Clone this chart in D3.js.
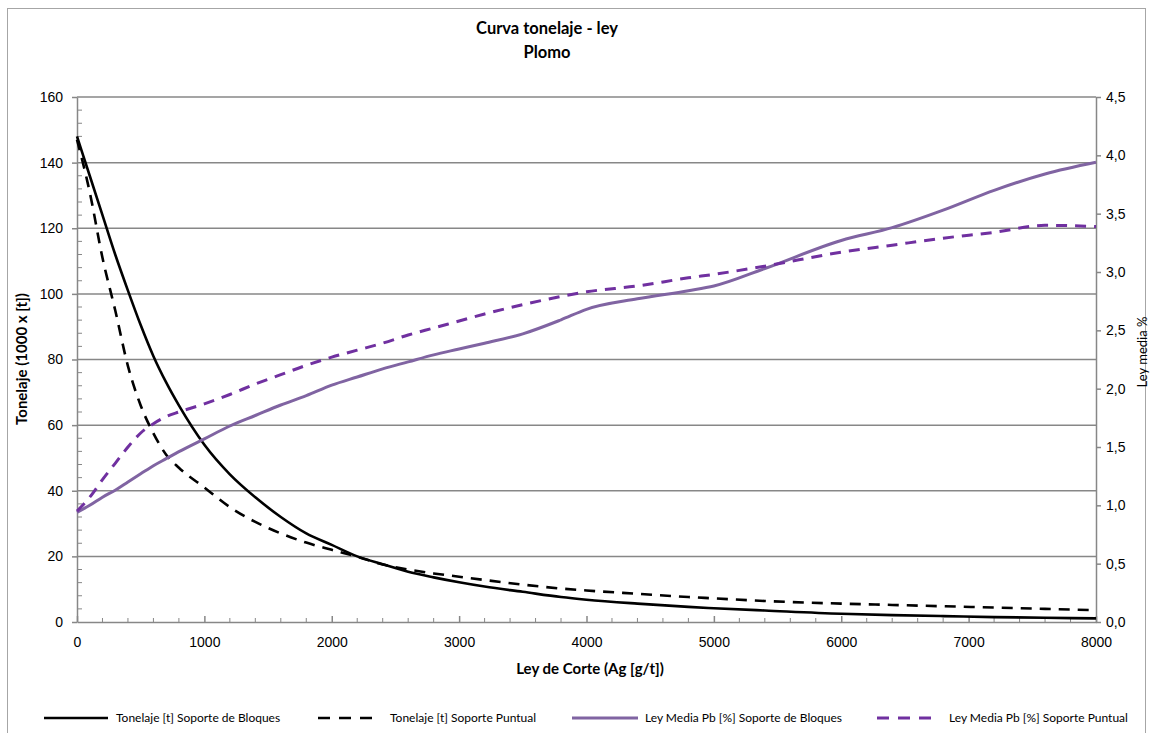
<!DOCTYPE html>
<html>
<head>
<meta charset="utf-8">
<script src="https://cdn.jsdelivr.net/npm/d3@7"></script>
<style>
  html, body { margin: 0; padding: 0; background: #fff; }
  svg { display: block; font-family: Lato, "Open Sans", sans-serif; }
  .tick text { fill: #000; }
</style>
</head>
<body>
<svg id="chart" width="1153" height="733"></svg>
<script>
// Cut-off grade (Ag g/t) shared by every series
const cutoff = [0, 100, 200, 300, 400, 500, 600, 700, 800, 1000, 1200, 1400, 1600, 1800,
  2000, 2200, 2400, 2600, 2800, 3000, 3200, 3500, 3800, 4000, 4400, 4800, 5000, 5400,
  6000, 6400, 6800, 7200, 7600, 8000];

// Tonnage (1000 x t), block support
const tonBloques = [148, 136, 124, 112, 101, 90.5, 81, 73, 66, 54, 45, 38, 32, 27,
  23.5, 20, 17.6, 15.3, 13.6, 12.1, 10.8, 9.2, 7.6, 6.8, 5.6, 4.6, 4.2, 3.5,
  2.5, 2.1, 1.8, 1.5, 1.3, 1.1];

// Tonnage (1000 x t), point support
const tonPuntual = [147, 131, 111, 95, 78, 66, 57.5, 51, 47, 41, 35, 30.5, 27, 24.2,
  22, 19.9, 17.5, 16.0, 14.8, 13.8, 12.8, 11.4, 10.2, 9.6, 8.6, 7.6, 7.2, 6.4,
  5.6, 5.2, 4.8, 4.4, 4.0, 3.6];

// Mean Pb grade (%), block support
const leyBloques = [0.94, 1.00, 1.07, 1.13, 1.20, 1.27, 1.34, 1.40, 1.46, 1.57, 1.68, 1.77, 1.86, 1.94,
  2.03, 2.10, 2.17, 2.23, 2.29, 2.34, 2.39, 2.47, 2.59, 2.68, 2.77, 2.84, 2.88, 3.03,
  3.27, 3.38, 3.53, 3.70, 3.84, 3.94];

// Mean Pb grade (%), point support
const leyPuntual = [0.95, 1.07, 1.22, 1.36, 1.50, 1.62, 1.70, 1.76, 1.80, 1.87, 1.95, 2.04, 2.12, 2.20,
  2.27, 2.33, 2.39, 2.46, 2.52, 2.58, 2.64, 2.72, 2.79, 2.83, 2.88, 2.95, 2.98, 3.05,
  3.17, 3.23, 3.29, 3.34, 3.40, 3.39];

const xTicks = [0, 1000, 2000, 3000, 4000, 5000, 6000, 7000, 8000];
const yLeftTicks = [0, 20, 40, 60, 80, 100, 120, 140, 160];
const yRightTicks = [0, 0.5, 1, 1.5, 2, 2.5, 3, 3.5, 4, 4.5];

const seriesNames = [
  "Tonelaje [t] Soporte de Bloques",
  "Tonelaje [t] Soporte Puntual",
  "Ley Media Pb [%] Soporte de Bloques",
  "Ley Media Pb [%] Soporte Puntual"
];

const svg = d3.select("#chart");
const gray = "#878787";
const plot = { left: 77, right: 1096, top: 97, bottom: 622 };

const x = d3.scaleLinear().domain([0, 8000]).range([plot.left, plot.right]);
const yL = d3.scaleLinear().domain([0, 160]).range([plot.bottom, plot.top]);
const yR = d3.scaleLinear().domain([0, 4.5]).range([plot.bottom, plot.top]);

// chart frame
svg.append("rect")
  .attr("x", 7.5).attr("y", 8.5).attr("width", 1138).attr("height", 760)
  .attr("fill", "none").attr("stroke", "#a6a6a6").attr("stroke-width", 1);

// titles
svg.append("text").attr("x", 547).attr("y", 34).attr("text-anchor", "middle")
  .attr("font-size", 16.5).attr("font-weight", "bold").text("Curva tonelaje - ley");
svg.append("text").attr("x", 547).attr("y", 58).attr("text-anchor", "middle")
  .attr("font-size", 16.5).attr("font-weight", "bold").text("Plomo");

// horizontal gridlines
svg.append("g").selectAll("line").data(yLeftTicks.filter(d => d > 0)).join("line")
  .attr("x1", plot.left).attr("x2", plot.right)
  .attr("y1", d => yL(d)).attr("y2", d => yL(d))
  .attr("stroke", gray).attr("stroke-width", 1.5);

// minor ticks
const minorLeft = d3.range(0, 161, 4).filter(d => d % 20 !== 0);
svg.append("g").selectAll("line").data(minorLeft).join("line")
  .attr("x1", plot.left).attr("x2", plot.left + 5)
  .attr("y1", d => yL(d)).attr("y2", d => yL(d))
  .attr("stroke", gray).attr("stroke-width", 1);
const minorX = d3.range(0, 8001, 200).filter(d => d % 1000 !== 0);
svg.append("g").selectAll("line").data(minorX).join("line")
  .attr("x1", d => x(d)).attr("x2", d => x(d))
  .attr("y1", plot.bottom).attr("y2", plot.bottom - 4)
  .attr("stroke", gray).attr("stroke-width", 1);

// axes
const axisStyle = g => {
  g.select(".domain").attr("stroke", gray).attr("stroke-width", 1.5);
  g.selectAll(".tick line").attr("stroke", gray).attr("stroke-width", 1.5);
  g.selectAll(".tick text").attr("font-size", 14).attr("fill", "#000");
};

svg.append("g").attr("transform", `translate(0,${plot.bottom})`)
  .call(d3.axisTop(x).tickValues(xTicks).tickSize(6).tickSizeOuter(0).tickFormat(d3.format("d")))
  .call(axisStyle)
  .call(g => g.selectAll(".tick text").attr("y", 21).attr("dy", "0.32em"));

svg.append("g").attr("transform", `translate(${plot.left},0)`)
  .call(d3.axisLeft(yL).tickValues(yLeftTicks).tickSize(5).tickSizeOuter(0).tickPadding(9))
  .call(axisStyle);

svg.append("g").attr("transform", `translate(${plot.right},0)`)
  .call(d3.axisRight(yR).tickValues(yRightTicks).tickSize(5).tickSizeOuter(0).tickPadding(5)
    .tickFormat(d => d3.format(".1f")(d).replace(".", ",")))
  .call(axisStyle);

// axis titles
svg.append("text").attr("x", 590).attr("y", 674).attr("text-anchor", "middle")
  .attr("font-size", 15).attr("font-weight", "bold").text("Ley de Corte (Ag [g/t])");
svg.append("text").attr("transform", "translate(27,359) rotate(-90)").attr("text-anchor", "middle")
  .attr("font-size", 15).attr("font-weight", "bold").text("Tonelaje (1000 x [t])");
svg.append("text").attr("transform", "translate(1147,352) rotate(-90)").attr("text-anchor", "middle")
  .attr("font-size", 13).text("Ley media %");

// series
const series = [
  { name: seriesNames[0], values: tonBloques, y: yL, color: "#000000", width: 2.6, dash: null },
  { name: seriesNames[1], values: tonPuntual, y: yL, color: "#000000", width: 2.6, dash: "11,8" },
  { name: seriesNames[2], values: leyBloques, y: yR, color: "#8064a2", width: 3, dash: null },
  { name: seriesNames[3], values: leyPuntual, y: yR, color: "#7030a0", width: 3, dash: "11,8" }
];

const lines = svg.append("g");
series.forEach(s => {
  const line = d3.line()
    .x((d, i) => x(cutoff[i]))
    .y(d => s.y(d))
    .curve(d3.curveMonotoneX);
  lines.append("path")
    .datum(s.values)
    .attr("d", line)
    .attr("fill", "none")
    .attr("stroke", s.color)
    .attr("stroke-width", s.width)
    .attr("stroke-dasharray", s.dash)
    .attr("stroke-linejoin", "round");
});

// legend
const legendPos = [
  { x1: 44, x2: 108, tx: 116 },
  { x1: 318, x2: 372, tx: 390 },
  { x1: 572, x2: 638, tx: 645 },
  { x1: 877, x2: 931, tx: 949 }
];
const legend = svg.append("g");
series.forEach((s, i) => {
  const p = legendPos[i];
  legend.append("line")
    .attr("x1", p.x1).attr("x2", p.x2).attr("y1", 718).attr("y2", 718)
    .attr("stroke", s.color).attr("stroke-width", s.width)
    .attr("stroke-dasharray", s.dash ? "12,9" : null);
  legend.append("text").attr("x", p.tx).attr("y", 718).attr("dy", "0.35em")
    .attr("font-size", 12).text(s.name);
});
</script>
</body>
</html>
